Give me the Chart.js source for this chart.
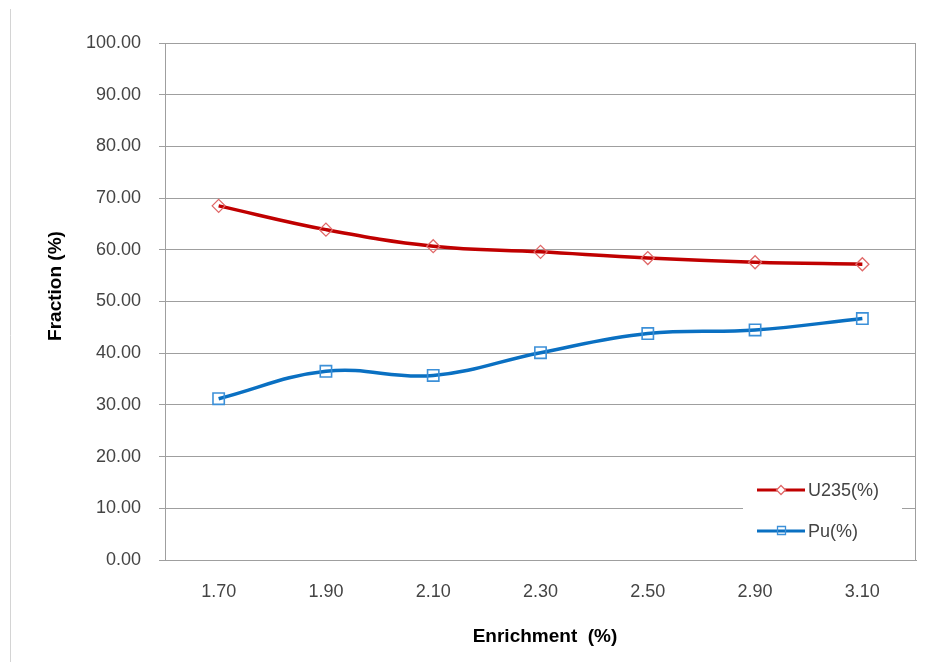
<!DOCTYPE html>
<html>
<head>
<meta charset="utf-8">
<style>
  html, body { margin: 0; padding: 0; background: #ffffff; }
  #wrap { width: 934px; height: 662px; }
</style>
<script src="https://cdn.jsdelivr.net/npm/chart.js@4.4.1/dist/chart.umd.min.js"></script>
</head>
<body>
<div id="wrap"><canvas id="c" width="934" height="662"></canvas></div>
<script>
// Enrichment categories and the two fraction series (%)
const enrichment = ['1.70', '1.90', '2.10', '2.30', '2.50', '2.90', '3.10'];
const u235Fraction = [68.5, 63.9, 60.7, 59.6, 58.4, 57.6, 57.2];
const puFraction = [31.2, 36.5, 35.7, 40.1, 43.8, 44.5, 46.7];
const seriesLabels = ['U235(%)', 'Pu(%)'];
const xTitle = 'Enrichment  (%)';
const yTitle = 'Fraction (%)';

const FONT = "'Liberation Sans', Arial, sans-serif";
const GRID = '#9f9f9f';
const TEXT = '#444444';

const styles = [
  { line: '#c00000', marker: '#e06868', shape: 'diamond' },
  { line: '#0a70c2', marker: '#3c90d8', shape: 'square' }
];

// outer frame edge and plot border on the right side
const framePlugin = {
  id: 'frame',
  beforeDraw(chart) {
    const ctx = chart.ctx;
    ctx.save();
    ctx.strokeStyle = '#d4d4d4';
    ctx.lineWidth = 1;
    ctx.beginPath();
    ctx.moveTo(10.5, 9);
    ctx.lineTo(10.5, chart.height);
    ctx.stroke();
    ctx.restore();
  },
  beforeDatasetsDraw(chart) {
    const a = chart.chartArea, ctx = chart.ctx;
    ctx.save();
    ctx.strokeStyle = GRID;
    ctx.lineWidth = 1;
    ctx.beginPath();
    ctx.moveTo(Math.round(a.right) - 0.5, a.top);
    ctx.lineTo(Math.round(a.right) - 0.5, a.bottom);
    ctx.stroke();
    ctx.restore();
  }
};

// axis titles
const titlePlugin = {
  id: 'axisTitles',
  afterDraw(chart) {
    const ctx = chart.ctx;
    ctx.save();
    ctx.fillStyle = '#000000';
    ctx.font = 'bold 19px ' + FONT;
    ctx.textAlign = 'center';
    ctx.textBaseline = 'middle';
    ctx.fillText(xTitle, 545, 637);
    ctx.translate(56, 286);
    ctx.rotate(-Math.PI / 2);
    ctx.fillText(yTitle, 0, 0);
    ctx.restore();
  }
};

// legend box placed inside the plot, lower right
const legendPlugin = {
  id: 'innerLegend',
  afterDatasetsDraw(chart) {
    const ctx = chart.ctx;
    ctx.save();
    ctx.fillStyle = '#ffffff';
    ctx.fillRect(743, 470, 159, 80);
    const rows = [490, 531];
    chart.data.datasets.forEach((ds, i) => {
      const y = rows[i];
      const st = styles[i];
      ctx.strokeStyle = st.line;
      ctx.lineWidth = 3;
      ctx.beginPath();
      ctx.moveTo(757, y);
      ctx.lineTo(805, y);
      ctx.stroke();
      ctx.fillStyle = '#ffffff';
      ctx.strokeStyle = st.marker;
      ctx.lineWidth = 1.3;
      if (st.shape === 'diamond') {
        ctx.beginPath();
        ctx.moveTo(781, y - 4.5); ctx.lineTo(785.5, y); ctx.lineTo(781, y + 4.5); ctx.lineTo(776.5, y);
        ctx.closePath(); ctx.fill(); ctx.stroke();
      } else {
        ctx.beginPath();
        ctx.rect(777.5, y - 4.5, 8, 8);
        ctx.stroke();
      }
      ctx.fillStyle = TEXT;
      ctx.font = '18px ' + FONT;
      ctx.textAlign = 'left';
      ctx.textBaseline = 'middle';
      ctx.fillText(ds.label, 808, y + 1);
    });
    ctx.restore();
  }
};

new Chart(document.getElementById('c'), {
  type: 'line',
  data: {
    labels: enrichment,
    datasets: [
      {
        label: seriesLabels[0],
        data: u235Fraction,
        borderColor: styles[0].line,
        borderWidth: 3.5,
        tension: 0.4,
        pointStyle: 'rectRot',
        pointRadius: 6.5,
        pointBorderWidth: 1.3,
        pointBorderColor: styles[0].marker,
        pointBackgroundColor: 'rgba(255,255,255,0)',
        fill: false
      },
      {
        label: seriesLabels[1],
        data: puFraction,
        borderColor: styles[1].line,
        borderWidth: 3.5,
        tension: 0.4,
        pointStyle: 'rect',
        pointRadius: 8,
        pointBorderWidth: 1.6,
        pointBorderColor: styles[1].marker,
        pointBackgroundColor: 'rgba(255,255,255,0)',
        fill: false
      }
    ]
  },
  options: {
    responsive: false,
    animation: false,
    devicePixelRatio: 1,
    layout: { padding: { left: 0, top: 43, right: 18, bottom: 0 } },
    plugins: {
      legend: { display: false },
      tooltip: { enabled: false }
    },
    scales: {
      x: {
        type: 'category',
        offset: true,
        grid: { display: false, drawTicks: false },
        border: { display: true, color: GRID, width: 1 },
        ticks: {
          color: TEXT,
          font: { family: FONT, size: 18 },
          padding: 21,
          maxRotation: 0,
          autoSkip: false
        },
        afterFit(scale) { scale.height = 102; }
      },
      y: {
        min: 0,
        max: 100,
        grid: { color: GRID, lineWidth: 1, tickLength: 6, tickColor: GRID },
        border: { display: true, color: GRID, width: 1 },
        ticks: {
          stepSize: 10,
          color: TEXT,
          font: { family: FONT, size: 18 },
          padding: 18,
          callback: (v) => Number(v).toFixed(2)
        },
        afterFit(scale) { scale.width = 165; }
      }
    }
  },
  plugins: [framePlugin, titlePlugin, legendPlugin]
});
</script>
</body>
</html>
